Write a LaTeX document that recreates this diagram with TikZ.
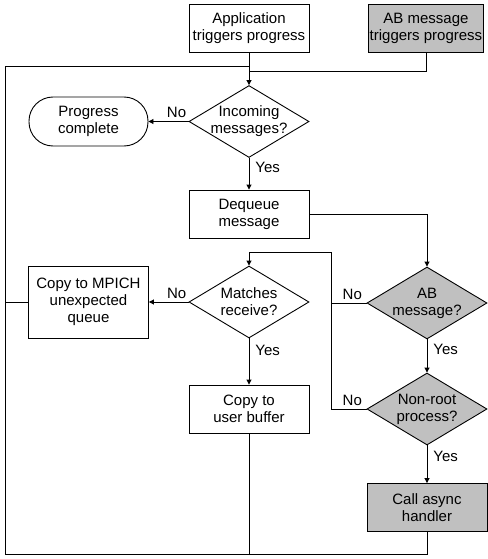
\documentclass[tikz,border=0pt]{standalone}
\usepackage{fontspec}
\setmainfont{Liberation Sans}
\usetikzlibrary{arrows.meta, shapes.geometric}
\definecolor{abgrey}{RGB}{192,192,192}

\begin{document}
\begin{tikzpicture}[x=1pt, y=-1pt, % pixel units, y grows downwards
                > = {Triangle[length=5pt, width=5pt]},
every node/.style = {font=\fontsize{15}{17}\selectfont, align=center},
       box/.style = {draw, rectangle, minimum width=120pt, minimum height=48pt,
                     inner sep=1pt},
    ab box/.style = {box, fill=abgrey},
  terminal/.style = {draw, rectangle, rounded corners=24pt,
                     minimum width=119pt, minimum height=49pt},
  decision/.style = {draw, diamond, minimum width=120pt, minimum height=72pt,
                     inner sep=0pt},
ab decision/.style = {decision, fill=abgrey},
    answer/.style = {inner sep=3pt},
    line width=0.9pt
                    ]
    \useasboundingbox (0,0) rectangle (487,559);

    % boxes and decisions
    \node[box] (app) at (249,28.5) {Application\\triggers progress};
    \node[ab box, minimum width=115pt] (abtrig) at (426,28.5) {AB message\\triggers progress};
    \node[decision, label={center:Incoming\\messages?}] (incoming) at (249,121.5) {};
    \node[terminal] (done) at (88.5,121.5) {Progress\\complete};
    \node[box] (dequeue) at (249,214) {Dequeue\\message};
    \node[decision, label={center:Matches\\receive?}] (matches) at (249,302) {};
    \node[box, minimum height=72pt] (unexp) at (88.5,302) {Copy to MPICH\\unexpected\\queue};
    \node[ab decision, label={center:AB\\message?}] (abmsg) at (427,303) {};
    \node[ab decision, label={center:Non-root\\process?}] (nonroot) at (427,409) {};
    \node[box] (userbuf) at (249,409) {Copy to\\user buffer};
    \node[ab box] (async) at (427,507.5) {Call async\\handler};

    \coordinate (join) at (249,71);
    \coordinate (top) at (249,66);
    \coordinate (sw) at (5,554);
    \coordinate (bus) at (331,252);

    % main flow
    \draw[->] (app.south) -- (incoming.north);
    \draw (abtrig.south) |- (join);
    \draw[->] (incoming.west) -- node[answer, above, pos=0.3] {No} (done.east);
    \draw[->] (incoming.south) -- node[answer, right, pos=0.3, xshift=3pt] {Yes} (dequeue.north);
    \draw[->] (dequeue.east) -| (abmsg.north);
    \draw (abmsg.west) -- node[answer, above, pos=0.4] {No} (abmsg.west -| bus);
    \draw[->] (nonroot.west) -- node[answer, above, pos=0.4] {No} (nonroot.west -| bus)
              -- (bus) -| (matches.north);
    \draw[->] (matches.west) -- node[answer, above, pos=0.3] {No} (unexp.east);
    \draw[->] (matches.south) -- node[answer, right, pos=0.25, xshift=3pt] {Yes} (userbuf.north);
    \draw[->] (abmsg.south) -- node[answer, right, pos=0.3, xshift=3pt] {Yes} (nonroot.north);
    \draw[->] (nonroot.south) -- node[answer, right, pos=0.3, xshift=3pt] {Yes} (async.north);

    % loop back to the top
    \draw (async.south) |- (sw) |- (top);
    \draw (userbuf.south) -- (userbuf.south |- sw);
    \draw (unexp.west) -- (unexp.west -| sw);
\end{tikzpicture}
\end{document}
